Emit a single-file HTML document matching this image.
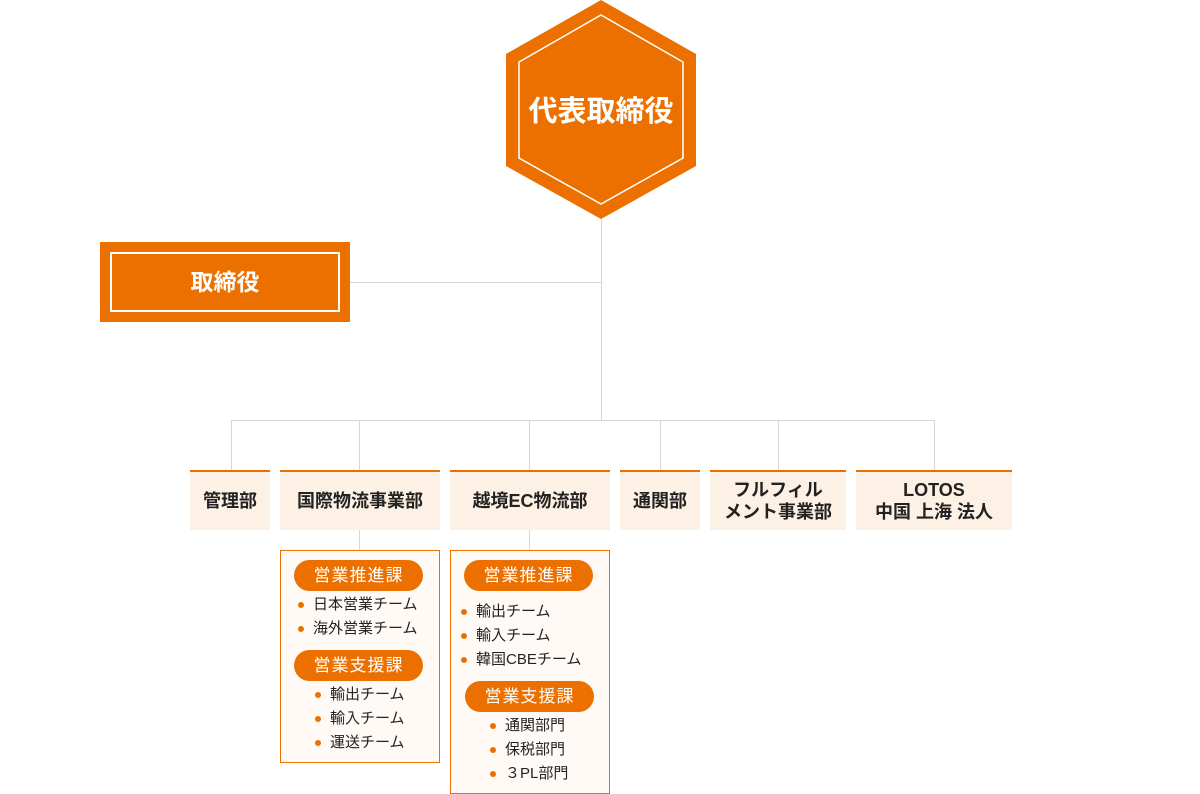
<!DOCTYPE html>
<html><head><meta charset="utf-8"><style>
body{margin:0;width:1200px;height:794px;background:#fff;position:relative;overflow:hidden;font-family:"Liberation Sans","Noto Sans CJK JP",sans-serif;color:#222}
.a{position:absolute}
.l{position:absolute;background:#d6d6d6}
.d{position:absolute;top:470px;height:58px;background:#fdf0e4;border-top:2px solid #ec7000;display:flex;align-items:center;justify-content:center;text-align:center;font-weight:bold;font-size:18px;line-height:22px}
.sb{position:absolute;top:550px;background:#fffaf6;border:1px solid #ec7000;box-sizing:border-box}
.pill{position:absolute;height:31px;width:129px;border-radius:16px;background:#ec7000;color:#fff;font-size:17px;line-height:31px;text-align:center;letter-spacing:1px}
.it{position:absolute;font-size:15px;line-height:18px;white-space:nowrap}
.it:before{content:"";position:absolute;left:-15px;top:6px;width:6px;height:6px;border-radius:50%;background:#ec7000}
</style></head><body>
<svg class="a" style="left:0;top:0" width="1200" height="230">
<polygon points="601,0 696,54 696,166 601,219 506,166 506,54" fill="#ec7000"/>
<polygon points="601,15 683,62 683,158 601,204 519,158 519,62" fill="none" stroke="#fff" stroke-width="1.5"/>
<text x="601" y="121" text-anchor="middle" fill="#fff" font-size="29" font-weight="bold" font-family="Liberation Sans,Noto Sans CJK JP,sans-serif">代表取締役</text>
</svg>
<div class="l" style="left:601px;top:219px;width:1px;height:201px"></div>
<div class="l" style="left:350px;top:282px;width:251px;height:1px"></div>
<div class="a" style="left:100px;top:242px;width:250px;height:80px;background:#ec7000"></div>
<div class="a" style="left:110px;top:252px;width:226px;height:56px;border:2px solid #fff;color:#fff;font-weight:bold;font-size:23px;line-height:56px;text-align:center">取締役</div>
<div class="l" style="left:231px;top:420px;width:704px;height:1px"></div>
<div class="l" style="left:231px;top:420px;width:1px;height:50px"></div>
<div class="l" style="left:359px;top:420px;width:1px;height:50px"></div>
<div class="l" style="left:529px;top:420px;width:1px;height:50px"></div>
<div class="l" style="left:660px;top:420px;width:1px;height:50px"></div>
<div class="l" style="left:778px;top:420px;width:1px;height:50px"></div>
<div class="l" style="left:934px;top:420px;width:1px;height:50px"></div>
<div class="l" style="left:359px;top:530px;width:1px;height:20px"></div>
<div class="l" style="left:529px;top:530px;width:1px;height:20px"></div>
<div class="d" style="left:190px;width:80px">管理部</div>
<div class="d" style="left:280px;width:160px">国際物流事業部</div>
<div class="d" style="left:450px;width:160px">越境EC物流部</div>
<div class="d" style="left:620px;width:80px">通関部</div>
<div class="d" style="left:710px;width:136px">フルフィル<br>メント事業部</div>
<div class="d" style="left:856px;width:156px">LOTOS<br>中国 上海 法人</div>
<div class="sb" style="left:280px;width:160px;height:213px"></div>
<div class="pill" style="left:294px;top:560px">営業推進課</div>
<div class="it" style="left:313px;top:596px">日本営業チーム</div>
<div class="it" style="left:313px;top:620px">海外営業チーム</div>
<div class="pill" style="left:294px;top:650px">営業支援課</div>
<div class="it" style="left:330px;top:686px">輸出チーム</div>
<div class="it" style="left:330px;top:710px">輸入チーム</div>
<div class="it" style="left:330px;top:734px">運送チーム</div>
<div class="sb" style="left:450px;width:160px;height:244px"></div>
<div class="pill" style="left:464px;top:560px">営業推進課</div>
<div class="it" style="left:476px;top:603px">輸出チーム</div>
<div class="it" style="left:476px;top:627px">輸入チーム</div>
<div class="it" style="left:476px;top:651px">韓国CBEチーム</div>
<div class="pill" style="left:465px;top:681px">営業支援課</div>
<div class="it" style="left:505px;top:717px">通関部門</div>
<div class="it" style="left:505px;top:741px">保税部門</div>
<div class="it" style="left:505px;top:765px">３PL部門</div>
</body></html>
